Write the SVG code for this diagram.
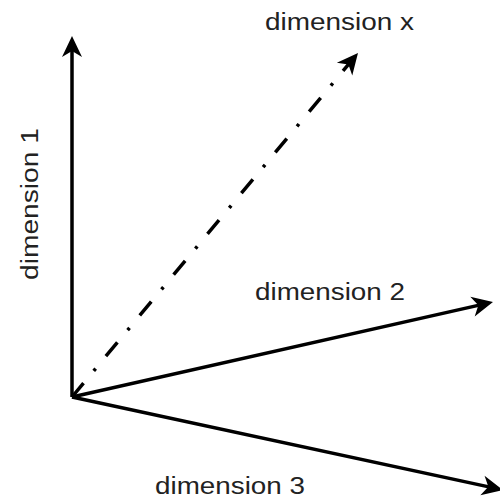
<svg xmlns="http://www.w3.org/2000/svg" width="500" height="500" viewBox="0 0 500 500">
  <style>
    .axis { stroke: #000; stroke-width: 3.5; fill: none; }
    .dashdot { stroke-dasharray: 18 16 3 16; }
    .label { font-family: "Liberation Sans", Arial, sans-serif; font-size: 23px; fill: #222; }
  </style>
  <defs>
    <marker id="arrow" markerUnits="userSpaceOnUse" markerWidth="30" markerHeight="30" viewBox="-25 -15 30 30" refX="-5" refY="0" orient="auto">
      <path d="M0,0 L-21,-10 L-15,0 L-21,10 Z" fill="#000"/>
    </marker>
  </defs>
  <rect width="500" height="500" fill="#fff"/>
  <g id="connectors">
    <line id="axis-1" class="axis" x1="72" y1="397" x2="72" y2="41" marker-end="url(#arrow)"/>
    <line id="axis-2" class="axis" x1="72" y1="397" x2="488.1" y2="303.1" marker-end="url(#arrow)"/>
    <line id="axis-3" class="axis" x1="72" y1="397" x2="498.1" y2="488.9" marker-end="url(#arrow)"/>
    <line id="axis-x" class="axis dashdot" x1="72" y1="397" x2="354.8" y2="56.8" marker-end="url(#arrow)"/>
  </g>
  <g id="label-x"><text class="label" x="265" y="30" textLength="149" lengthAdjust="spacingAndGlyphs">dimension x</text></g>
  <g id="label-2"><text class="label" x="255" y="300" textLength="150" lengthAdjust="spacingAndGlyphs">dimension 2</text></g>
  <g id="label-3"><text class="label" x="155" y="494" textLength="150" lengthAdjust="spacingAndGlyphs">dimension 3</text></g>
  <g id="label-1"><text class="label" transform="translate(38,280) rotate(-90)" x="0" y="0" textLength="152" lengthAdjust="spacingAndGlyphs">dimension 1</text></g>
</svg>
